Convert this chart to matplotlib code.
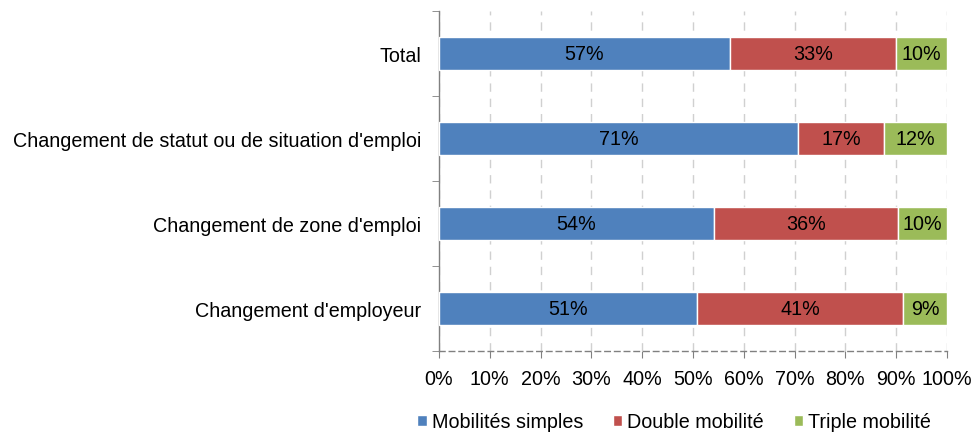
import matplotlib
matplotlib.use("Agg")
import matplotlib.pyplot as plt
import numpy as np

plt.rcParams['font.family'] = ['Liberation Sans', 'DejaVu Sans']

categories = ["Total", "Changement de statut ou de situation d'emploi",
              "Changement de zone d'emploi", "Changement d'employeur"]
simple = [57.3, 70.6, 54.1, 50.8]
double = [32.7, 17.0, 36.3, 40.6]
triple = [10.0, 12.4, 9.6, 8.6]
series_names = ["Mobilités simples", "Double mobilité", "Triple mobilité"]
colors = ["#4F81BD", "#C0504D", "#9BBB59"]
xticks = [0, 10, 20, 30, 40, 50, 60, 70, 80, 90, 100]

FS = 14.2

fig = plt.figure(figsize=(9.73, 4.35), dpi=100)
ax = fig.add_axes([439/973, 1 - 352/435, (947-439)/973, 340/435])

y = np.arange(len(categories))
left = np.zeros(len(categories))
for vals, name, c in zip([simple, double, triple], series_names, colors):
    ax.barh(y, vals, left=left, height=0.39, color=c, edgecolor='white',
            linewidth=1.0, label=name, zorder=3)
    for yi, l, v in zip(y, left, vals):
        ax.text(l + v / 2, yi, f"{v:.0f}%", ha='center', va='center',
                fontsize=FS, color='black', zorder=4)
    left = left + np.array(vals)

ax.set_ylim(len(categories) - 0.5, -0.5)
ax.set_xlim(0, 100)
ax.set_yticks(y)
ax.set_yticklabels(categories, fontsize=FS)
ax.set_yticks(np.arange(-0.5, len(categories), 1), minor=True)
ax.tick_params(axis='y', which='major', length=0, pad=13)
ax.tick_params(axis='y', which='minor', length=5, color='#808080', direction='out')
ax.set_xticks(xticks)
ax.set_xticklabels([f"{t}%" for t in xticks], fontsize=FS)
ax.tick_params(axis='x', length=5, color='#808080', direction='out', pad=8)

for s in ['top', 'right']:
    ax.spines[s].set_visible(False)
ax.spines['left'].set_color('#808080')
ax.spines['left'].set_linewidth(1.0)
ax.spines['bottom'].set_color('#808080')
ax.spines['bottom'].set_linestyle((0, (4, 3)))
ax.spines['bottom'].set_linewidth(1.0)

ax.grid(axis='x', color='#D0D0D0', linestyle=(0, (6, 5)), linewidth=1.0, zorder=0)
ax.set_axisbelow(True)

fig.legend(loc='center', bbox_to_anchor=(674/973, 1 - 423/435), ncol=3,
           frameon=False, fontsize=FS, handlelength=0.5, handleheight=0.5,
           handletextpad=0.25, columnspacing=1.5)

fig.savefig("out.png", dpi=100)
